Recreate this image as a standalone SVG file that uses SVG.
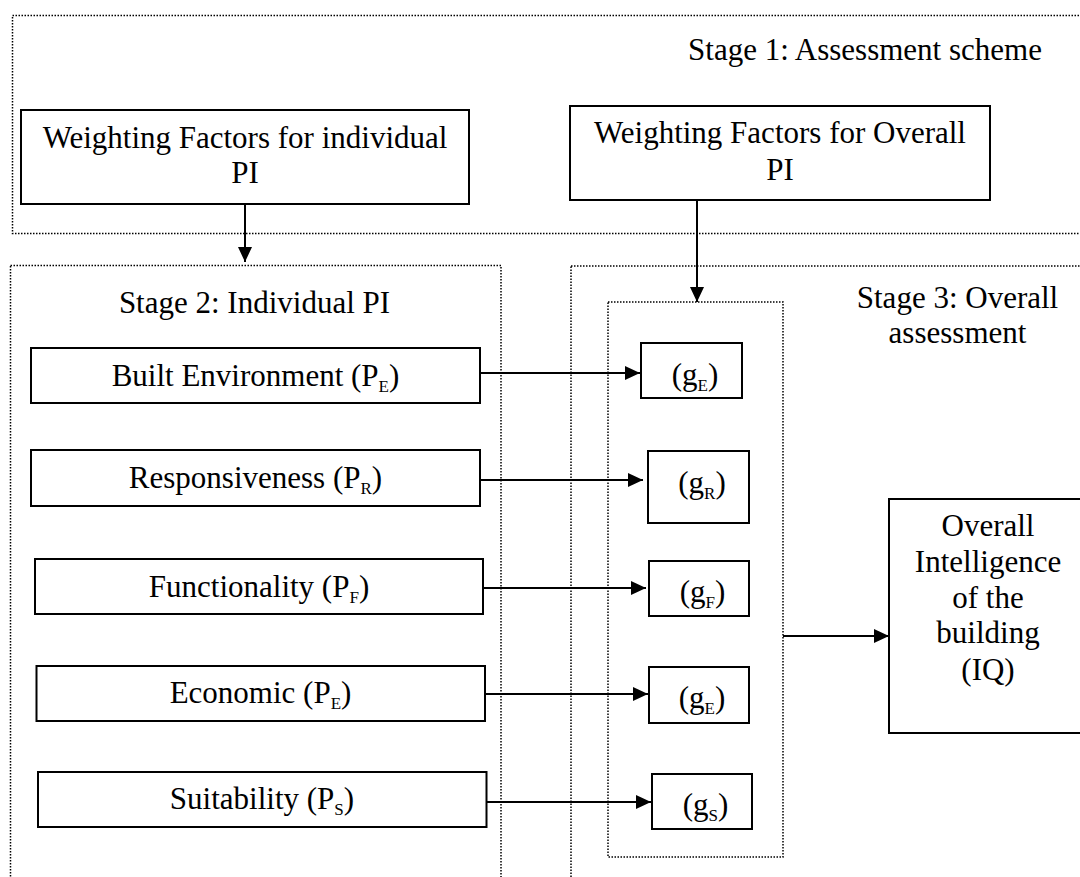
<svg xmlns="http://www.w3.org/2000/svg" width="1080" height="877" viewBox="0 0 1080 877">
  <style>
    .dot { fill: none; stroke: #000; stroke-width: 1.5; stroke-dasharray: 1.5 1.5; }
    .box { fill: #fff; stroke: #000; stroke-width: 2; }
    .t { font-family: "Liberation Serif", "DejaVu Serif", serif; font-size: 31px; fill: #000; }
    .m { text-anchor: middle; }
    .sub { font-size: 17px; }
    .conn { stroke: #000; stroke-width: 2; fill: none; marker-end: url(#arrow); }
  </style>
  <defs>
    <marker id="arrow" markerUnits="userSpaceOnUse" markerWidth="16" markerHeight="15" refX="15" refY="7" orient="auto">
      <path d="M0,0 L15,7 L0,14 z" fill="#000"/>
    </marker>
  </defs>
  <rect width="1080" height="877" fill="#fff"/>

  <g id="stage1">
    <rect class="dot" x="12.5" y="15.5" width="1090" height="218"/>
    <text class="t m" x="865" y="60">Stage 1: Assessment scheme</text>
  </g>
  <g id="stage2">
    <rect class="dot" x="10.5" y="265.5" width="490.5" height="700"/>
    <text class="t m" x="254.5" y="313">Stage 2: Individual PI</text>
  </g>
  <g id="stage3">
    <rect class="dot" x="571" y="266" width="600" height="700"/>
    <text class="t m" x="957.5" y="308">Stage 3: Overall</text>
    <text class="t m" x="957.5" y="343">assessment</text>
  </g>
  <g id="weights-group">
    <rect class="dot" x="608" y="302" width="175" height="555"/>
  </g>

  <g id="wf-individual">
    <rect class="box" x="21" y="110" width="448" height="94"/>
    <text class="t m" x="245" y="148">Weighting Factors for individual</text>
    <text class="t m" x="245" y="183">PI</text>
  </g>
  <g id="wf-overall">
    <rect class="box" x="570" y="106" width="420" height="94"/>
    <text class="t m" x="780" y="143">Weighting Factors for Overall</text>
    <text class="t m" x="780" y="180">PI</text>
  </g>

  <g id="built-env">
    <rect class="box" x="31" y="348" width="449" height="55"/>
    <text class="t m" x="255.5" y="386">Built Environment (P<tspan class="sub" dy="6">E</tspan><tspan dy="-6">)</tspan></text>
  </g>
  <g id="responsiveness">
    <rect class="box" x="31" y="450" width="449" height="56"/>
    <text class="t m" x="255.5" y="488">Responsiveness (P<tspan class="sub" dy="6">R</tspan><tspan dy="-6">)</tspan></text>
  </g>
  <g id="functionality">
    <rect class="box" x="35" y="559" width="448" height="55"/>
    <text class="t m" x="259" y="597">Functionality (P<tspan class="sub" dy="6">F</tspan><tspan dy="-6">)</tspan></text>
  </g>
  <g id="economic">
    <rect class="box" x="36.5" y="666" width="448.5" height="55"/>
    <text class="t m" x="260.5" y="703">Economic (P<tspan class="sub" dy="6">E</tspan><tspan dy="-6">)</tspan></text>
  </g>
  <g id="suitability">
    <rect class="box" x="38" y="772" width="448.5" height="55"/>
    <text class="t m" x="262" y="809">Suitability (P<tspan class="sub" dy="6">S</tspan><tspan dy="-6">)</tspan></text>
  </g>

  <g id="g-e1">
    <rect class="box" x="641" y="343" width="101" height="55"/>
    <text class="t m" x="695" y="385">(g<tspan class="sub" dy="6">E</tspan><tspan dy="-6">)</tspan></text>
  </g>
  <g id="g-r">
    <rect class="box" x="648" y="451" width="101" height="72"/>
    <text class="t m" x="702" y="493">(g<tspan class="sub" dy="6">R</tspan><tspan dy="-6">)</tspan></text>
  </g>
  <g id="g-f">
    <rect class="box" x="649" y="561" width="100" height="55"/>
    <text class="t m" x="702.5" y="602">(g<tspan class="sub" dy="6">F</tspan><tspan dy="-6">)</tspan></text>
  </g>
  <g id="g-e2">
    <rect class="box" x="649" y="667" width="100" height="56"/>
    <text class="t m" x="702" y="708">(g<tspan class="sub" dy="6">E</tspan><tspan dy="-6">)</tspan></text>
  </g>
  <g id="g-s">
    <rect class="box" x="652" y="774" width="100" height="55"/>
    <text class="t m" x="705.5" y="815">(g<tspan class="sub" dy="6">S</tspan><tspan dy="-6">)</tspan></text>
  </g>

  <g id="iq">
    <rect class="box" x="889" y="499" width="220" height="234"/>
    <text class="t m" x="988" y="536">Overall</text>
    <text class="t m" x="988" y="572">Intelligence</text>
    <text class="t m" x="988" y="608">of the</text>
    <text class="t m" x="988" y="643">building</text>
    <text class="t m" x="988" y="680">(IQ)</text>
  </g>

  <g id="connectors">
    <line class="conn" x1="245" y1="204" x2="245" y2="262"/>
    <line class="conn" x1="697" y1="200" x2="697" y2="302"/>
    <line class="conn" x1="480" y1="373" x2="640" y2="373"/>
    <line class="conn" x1="480" y1="480" x2="643" y2="480"/>
    <line class="conn" x1="483" y1="588" x2="646" y2="588"/>
    <line class="conn" x1="485" y1="694" x2="648" y2="694"/>
    <line class="conn" x1="487" y1="802" x2="651" y2="802"/>
    <line class="conn" x1="783" y1="636" x2="889" y2="636"/>
  </g>
</svg>
